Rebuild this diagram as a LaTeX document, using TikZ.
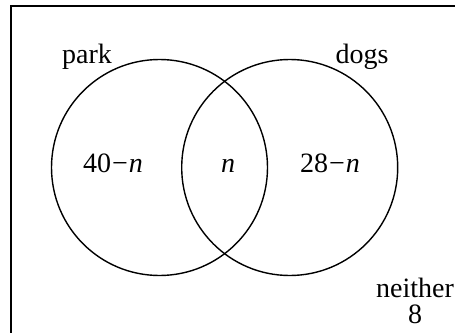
\documentclass[tikz,border=0pt]{standalone}
\usepackage{fontspec}
\setmainfont{Liberation Serif}
\begin{document}
\begin{tikzpicture}[x=1pt,y=-1pt,
  lbl/.style={font=\fontsize{28}{30}\selectfont, inner sep=0pt, anchor=base},
  setc/.style={draw=black, line width=1.4pt}]
\useasboundingbox (0,0) rectangle (455,332);
\begin{scope}
\clip (0,0) rectangle (455,332);
\draw[line width=2pt] (11,6) rectangle (470,345);
\end{scope}
\node[setc, circle, minimum size=216pt, inner sep=0pt] (park) at (159.5,167.5) {};
\node[setc, circle, minimum size=216pt, inner sep=0pt] (dogs) at (289.7,167.5) {};
\node[lbl] (lpark) at (87,63) {park};
\node[lbl] (ldogs) at (362,63) {dogs};
\node[lbl] (a) at (113,172) {40\kern1pt−\kern1pt\textit{n}};
\node[lbl] (b) at (228,172) {\textit{n}};
\node[lbl] (c) at (330,172) {28\kern1pt−\kern1pt\textit{n}};
\node[lbl] (nei) at (415,297) {neither};
\node[lbl] (eight) at (415,323) {8};
\end{tikzpicture}
\end{document}
